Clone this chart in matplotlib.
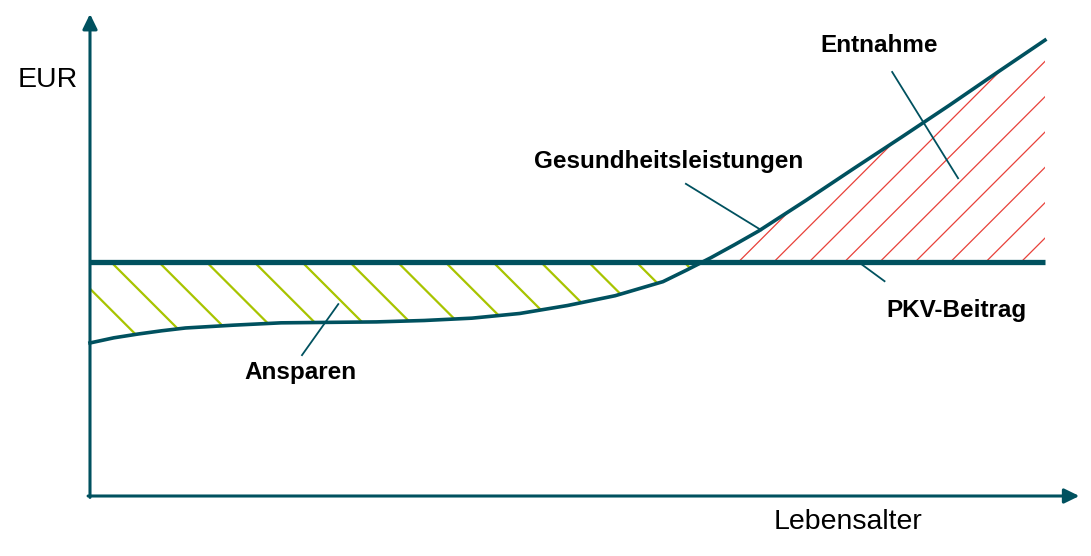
import numpy as np
import matplotlib
matplotlib.use('Agg')
import matplotlib.pyplot as plt
from matplotlib.collections import LineCollection

plt.rcParams['font.family'] = ['Liberation Sans', 'DejaVu Sans']

# Daten (schematisch): Lebensalter 0..100, EUR 0..100
alter = [0, 2.5, 5, 7.5, 10, 15, 20, 25, 30, 35, 40, 45, 50, 55, 60, 62.5, 65,
         67.5, 70, 75, 80, 85, 90, 95, 100]
leistungen = [32.7, 33.8, 34.6, 35.3, 35.9, 36.5, 37.0, 37.1, 37.2, 37.5, 38.0,
              39.0, 40.7, 42.8, 45.8, 48.3, 50.9, 53.7, 56.6, 63.2, 70.0, 76.7,
              83.5, 90.5, 97.4]
pkv_beitrag = 50

teal = '#00515F'
gruen = '#A8C400'
rot = '#E8413A'

fig = plt.figure(figsize=(10.91, 5.56), dpi=100)
ax = fig.add_axes([0, 0, 1, 1])
ax.set_xlim(-9.424, 104.82)
ax.set_ylim(-12.82, 105.98)
ax.axis('off')

x = np.array(alter)
y = np.array(leistungen)
beitrag = np.full_like(y, pkv_beitrag)

# Flaechen (nur als Clip-Pfad)
ansparen = ax.fill_between(x, y, beitrag, where=y <= beitrag, interpolate=True,
                           facecolor='none', edgecolor='none')
entnahme = ax.fill_between(x, y, beitrag, where=y >= beitrag, interpolate=True,
                           facecolor='none', edgecolor='none')

# 45-Grad-Schraffur in Pixeln
k = 9.55 / 4.68
segs = []
for x0 in np.arange(-2.8, 70, 5.0):
    segs.append([(x0, pkv_beitrag), (x0 + 25 / k, pkv_beitrag - 25)])
lc_g = LineCollection(segs, colors=gruen, linewidths=1.6)
ax.add_collection(lc_g)
lc_g.set_clip_path(ansparen.get_paths()[0], ax.transData)

segs = []
for x0 in np.arange(67.9, 104, 3.7):
    segs.append([(x0, pkv_beitrag), (x0 + 50 / k, pkv_beitrag + 50)])
lc_r = LineCollection(segs, colors=rot, linewidths=0.9)
ax.add_collection(lc_r)
lc_r.set_clip_path(entnahme.get_paths()[0], ax.transData)

# Beitrag und Leistungen
ax.plot([0, 100], [pkv_beitrag, pkv_beitrag], color=teal, lw=3.8, solid_capstyle='butt')
ax.plot(x, y, color=teal, lw=2.6, solid_joinstyle='round')

# Achsen mit Pfeilen
arrow = dict(arrowstyle='-|>,head_length=0.45,head_width=0.22', color=teal, lw=2.2,
             mutation_scale=20, shrinkA=0, shrinkB=0)
ax.annotate('', xy=(0, 103.0), xytext=(0, -0.3), arrowprops=arrow)
ax.annotate('', xy=(103.6, 0), xytext=(-0.2, 0), arrowprops=arrow)

ax.text(-4.4, 88.9, 'EUR', fontsize=20.5, ha='center', va='center')
ax.text(79.4, -5.6, 'Lebensalter', fontsize=20.5, ha='center', va='center')

# Beschriftungen mit Zeigern
labels = [
    ('Entnahme', (82.6, 96.2), (84.0, 90.6), (90.9, 67.9)),
    ('Gesundheitsleistungen', (60.6, 71.4), (62.4, 66.7), (70.3, 56.8)),
    ('PKV-Beitrag', (90.7, 39.7), (83.2, 45.9), (80.6, 49.8)),
    ('Ansparen', (22.0, 26.3), (22.2, 30.1), (26.0, 41.0)),
]
for text, pos, p0, p1 in labels:
    ax.text(pos[0], pos[1], text, fontsize=17.5, fontweight='bold', ha='center', va='center')
    ax.plot([p0[0], p1[0]], [p0[1], p1[1]], color=teal, lw=1.3)

plt.savefig('out.png', dpi=100)
